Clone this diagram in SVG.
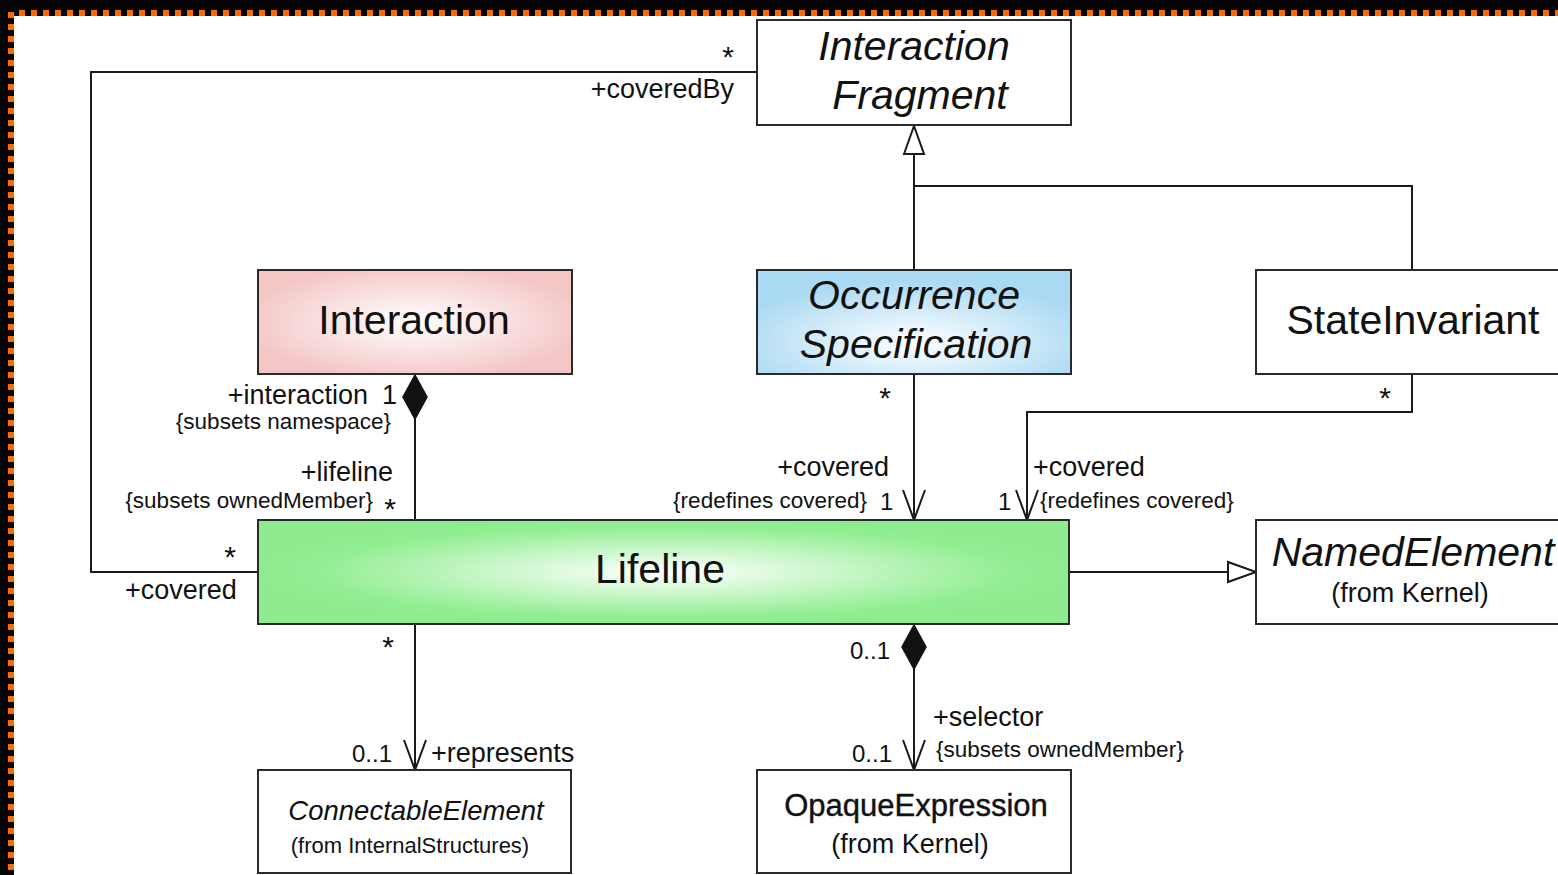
<svg xmlns="http://www.w3.org/2000/svg" width="1558" height="875" viewBox="0 0 1558 875">
<style>
text{font-family:"Liberation Sans",Arial,sans-serif;fill:#111}
.box{stroke:#2a2a2a;stroke-width:2}
.big{font-size:41px}
.mid{font-size:27px}
.lab{font-size:27px}
.brc{font-size:22.5px}
.mul{font-size:24px}
.ast{font-size:30px;text-anchor:middle}
.it{font-style:italic}
.end{text-anchor:end}
.conn{fill:none;stroke:#1a1a1a;stroke-width:2}
</style>
<defs>
<radialGradient id="gPink" cx="50%" cy="50%" r="55%">
<stop offset="0" stop-color="#ffffff"/>
<stop offset="1" stop-color="#f4c6c6"/>
</radialGradient>
<radialGradient id="gBlue" cx="50%" cy="70%" r="60%">
<stop offset="0" stop-color="#ffffff"/>
<stop offset="1" stop-color="#aad9f3"/>
</radialGradient>
<radialGradient id="gGreen" cx="50%" cy="50%" r="50%">
<stop offset="0" stop-color="#ffffff"/>
<stop offset="0.85" stop-color="#94ee94"/>
<stop offset="1" stop-color="#8eec8e"/>
</radialGradient>
<marker id="open" markerUnits="userSpaceOnUse" markerWidth="40" markerHeight="30" refX="30" refY="12" orient="auto" overflow="visible">
<path d="M0,1 L30,12 L0,23" fill="none" stroke="#1a1a1a" stroke-width="2"/>
</marker>
<marker id="tri" markerUnits="userSpaceOnUse" markerWidth="40" markerHeight="30" refX="28" refY="11" orient="auto" overflow="visible">
<path d="M0,1 L28,11 L0,21 Z" fill="#ffffff" stroke="#1a1a1a" stroke-width="2"/>
</marker>
<marker id="dia" markerUnits="userSpaceOnUse" markerWidth="50" markerHeight="30" refX="0" refY="12" orient="auto" overflow="visible">
<path d="M0,12 L22,0 L44,12 L22,24 Z" fill="#111111" stroke="#111111" stroke-width="1.5"/>
</marker>
</defs>

<g id="frame">
<rect x="0" y="0" width="1558" height="875" fill="#050505"/>
<rect x="14" y="16" width="1544" height="859" fill="#ffffff"/>
<line x1="19" y1="13" x2="1558" y2="13" stroke="#ff6a00" stroke-width="6" stroke-dasharray="6 6"/>
<line x1="11" y1="12" x2="11" y2="875" stroke="#ff6a00" stroke-width="6" stroke-dasharray="6 6"/>
</g>

<g id="connectors">
<path class="conn" d="M914,270 L914,126" marker-end="url(#tri)"/>
<path class="conn" d="M1412,270 L1412,186 L914,186"/>
<path class="conn" d="M757,72 L91,72 L91,572 L258,572"/>
<path class="conn" d="M415,375 L415,520" marker-start="url(#dia)"/>
<path class="conn" d="M914,374 L914,520" marker-end="url(#open)"/>
<path class="conn" d="M1412,374 L1412,412 L1027,412 L1027,520" marker-end="url(#open)"/>
<path class="conn" d="M1069,572 L1256,572" marker-end="url(#tri)"/>
<path class="conn" d="M415,624 L415,770" marker-end="url(#open)"/>
<path class="conn" d="M914,625 L914,770" marker-start="url(#dia)" marker-end="url(#open)"/>
<g id="labels">
<text class="ast" x="728" y="67">*</text>
<text class="lab end" x="734" y="98">+coveredBy</text>
<text class="ast" x="230" y="567">*</text>
<text class="lab" x="125" y="599">+covered</text>
<text class="lab end" x="368" y="404">+interaction</text>
<text class="lab" x="382" y="404">1</text>
<text class="brc end" x="391" y="429">{subsets namespace}</text>
<text class="lab end" x="393" y="481">+lifeline</text>
<text class="brc end" x="373" y="508">{subsets ownedMember}</text>
<text class="ast" x="390" y="519">*</text>
<text class="ast" x="885" y="408">*</text>
<text class="lab end" x="889" y="476">+covered</text>
<text class="brc end" x="867" y="508">{redefines covered}</text>
<text class="mul" x="880" y="510">1</text>
<text class="ast" x="1385" y="408">*</text>
<text class="lab" x="1033" y="476">+covered</text>
<text class="mul" x="998" y="510">1</text>
<text class="brc" x="1040" y="508">{redefines covered}</text>
<text class="ast" x="388" y="657">*</text>
<text class="mul" x="352" y="762">0..1</text>
<text class="lab" x="431" y="762">+represents</text>
<text class="mul" x="850" y="659">0..1</text>
<text class="lab" x="933" y="726">+selector</text>
<text class="mul" x="852" y="762">0..1</text>
<text class="brc" x="936" y="757">{subsets ownedMember}</text>
</g>
</g>

<g id="InteractionFragment">
<rect class="box" x="757" y="20" width="314" height="105" fill="#ffffff"/>
<text class="big it" x="914" y="60" text-anchor="middle">Interaction</text>
<text class="big it" x="920" y="109" text-anchor="middle">Fragment</text>
</g>

<g id="Interaction">
<rect class="box" x="258" y="270" width="314" height="104" fill="url(#gPink)"/>
<text class="big" x="414" y="334" text-anchor="middle">Interaction</text>
</g>

<g id="OccurrenceSpecification">
<rect class="box" x="757" y="270" width="314" height="104" fill="url(#gBlue)"/>
<text class="big it" x="914" y="309" text-anchor="middle">Occurrence</text>
<text class="big it" x="916" y="358" text-anchor="middle">Specification</text>
</g>

<g id="StateInvariant">
<rect class="box" x="1256" y="270" width="320" height="104" fill="#ffffff"/>
<text class="big" x="1413" y="334" text-anchor="middle">StateInvariant</text>
</g>

<g id="Lifeline">
<rect class="box" x="258" y="520" width="811" height="104" fill="url(#gGreen)"/>
<text class="big" x="660" y="583" text-anchor="middle">Lifeline</text>
</g>

<g id="NamedElement">
<rect class="box" x="1256" y="520" width="320" height="104" fill="#ffffff"/>
<text class="big it" x="1413" y="566" text-anchor="middle">NamedElement</text>
<text class="mid" x="1410" y="602" text-anchor="middle">(from Kernel)</text>
</g>

<g id="ConnectableElement">
<rect class="box" x="258" y="770" width="313" height="103" fill="#ffffff"/>
<text class="mid it" x="416" y="820" text-anchor="middle" style="font-size:27.5px">ConnectableElement</text>
<text x="410" y="853" text-anchor="middle" style="font-size:22px">(from InternalStructures)</text>
</g>

<g id="OpaqueExpression">
<rect class="box" x="757" y="770" width="314" height="103" fill="#ffffff"/>
<text x="916" y="816" text-anchor="middle" style="font-size:31px" stroke="#111" stroke-width="0.4">OpaqueExpression</text>
<text class="mid" x="910" y="853" text-anchor="middle">(from Kernel)</text>
</g>
</svg>
